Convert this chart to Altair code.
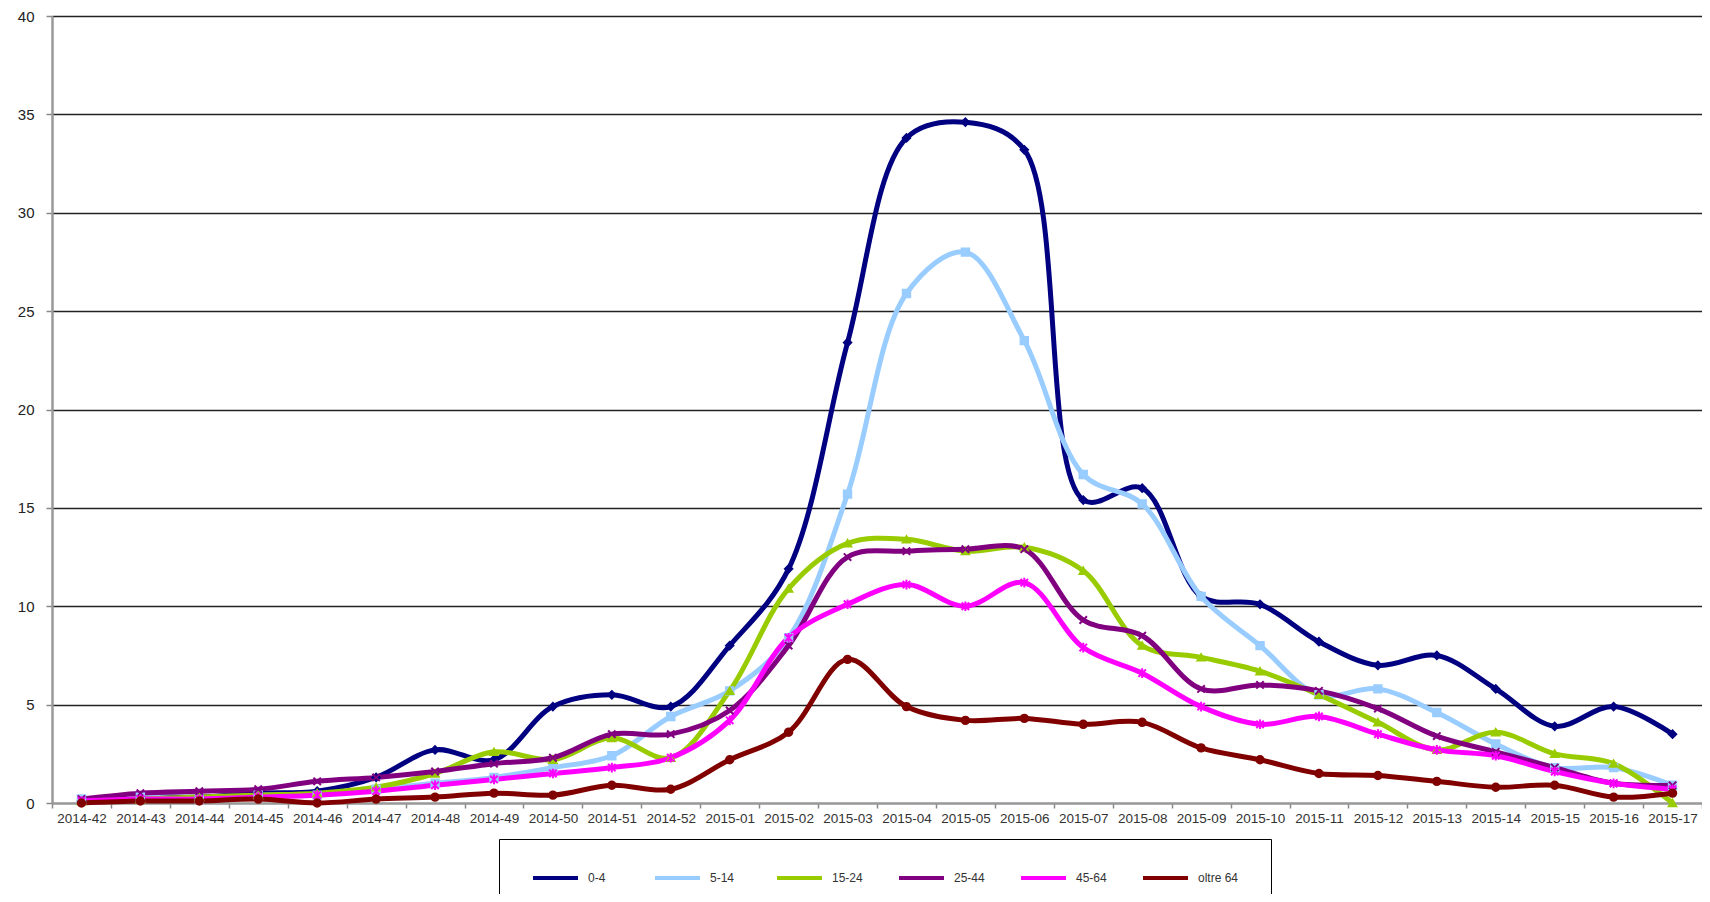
import altair as alt
import pandas as pd

weeks = ["2014-42", "2014-43", "2014-44", "2014-45", "2014-46", "2014-47", "2014-48",
         "2014-49", "2014-50", "2014-51", "2014-52", "2015-01", "2015-02", "2015-03",
         "2015-04", "2015-05", "2015-06", "2015-07", "2015-08", "2015-09", "2015-10",
         "2015-11", "2015-12", "2015-13", "2015-14", "2015-15", "2015-16", "2015-17"]

age_0_4 = [0.1, 0.3, 0.3, 0.5, 0.6, 1.3, 2.7, 2.2, 4.9, 5.5, 4.9, 8.0, 11.9, 23.4,
           33.8, 34.6, 33.2, 15.4, 16.0, 10.5, 10.1, 8.2, 7.0, 7.5, 5.8, 3.9, 4.9, 3.5]
age_5_14 = [0.2, 0.3, 0.2, 0.4, 0.4, 0.7, 1.0, 1.3, 1.8, 2.4, 4.4, 5.7, 8.4, 15.7,
            25.9, 28.0, 23.5, 16.7, 15.2, 10.5, 8.0, 5.5, 5.8, 4.6, 3.0, 1.8, 1.8, 0.9]
age_15_24 = [0.1, 0.2, 0.3, 0.4, 0.5, 0.8, 1.5, 2.6, 2.2, 3.3, 2.3, 5.7, 10.9, 13.2,
             13.4, 12.8, 13.0, 11.8, 8.0, 7.4, 6.7, 5.5, 4.1, 2.7, 3.6, 2.5, 2.0, 0.0]
age_25_44 = [0.2, 0.5, 0.6, 0.7, 1.1, 1.3, 1.6, 2.0, 2.3, 3.5, 3.5, 4.7, 8.0, 12.5,
             12.8, 12.9, 12.9, 9.3, 8.5, 5.8, 6.0, 5.7, 4.8, 3.4, 2.6, 1.8, 1.0, 0.9]
age_45_64 = [0.1, 0.2, 0.2, 0.3, 0.4, 0.6, 0.9, 1.2, 1.5, 1.8, 2.3, 4.2, 8.4, 10.1,
             11.1, 10.0, 11.2, 7.9, 6.6, 4.9, 4.0, 4.4, 3.5, 2.7, 2.4, 1.6, 1.0, 0.7]
age_65 = [0.0, 0.1, 0.1, 0.2, 0.0, 0.2, 0.3, 0.5, 0.4, 0.9, 0.7, 2.2, 3.6, 7.3,
          4.9, 4.2, 4.3, 4.0, 4.1, 2.8, 2.2, 1.5, 1.4, 1.1, 0.8, 0.9, 0.3, 0.5]

series_names = ["0-4", "5-14", "15-24", "25-44", "45-64", "oltre 64"]
series_values = [age_0_4, age_5_14, age_15_24, age_25_44, age_45_64, age_65]
series_colors = ["#000080", "#99CCFF", "#99CC00", "#800080", "#FF00FF", "#800000"]
series_shapes = ["diamond", "square", "triangle-up",
                 "M-1,-1L1,1M-1,1L1,-1",
                 "M-1,-1L1,1M-1,1L1,-1M0,-1.3L0,1.3",
                 "circle"]

rows = []
for k, (name, vals) in enumerate(zip(series_names, series_values)):
    for w, v in zip(weeks, vals):
        rows.append({"week": w, "value": v, "age": name, "order": k})
df = pd.DataFrame(rows)

FONT = "Liberation Sans"

x_enc = alt.X("week:N", sort=weeks,
              scale=alt.Scale(type="band", paddingInner=0, paddingOuter=0),
              axis=alt.Axis(title=None, labelAngle=0, tickBand="extent", labelFont=FONT,
                            labelFontSize=13.5, labelColor="#333", labelPadding=3,
                            tickSize=5, tickColor="#888", tickWidth=1.5,
                            domainColor="#999", domainWidth=2, grid=False,
                            labelOverlap=False))
y_enc = alt.Y("value:Q",
              scale=alt.Scale(domain=[0, 40], nice=False, zero=True),
              axis=alt.Axis(title=None, values=list(range(0, 41, 5)), labelFont=FONT,
                            labelFontSize=15, labelColor="#222", labelPadding=12,
                            tickSize=6, tickColor="#888", tickWidth=1.5,
                            domainColor="#999", domainWidth=2.5,
                            grid=True, gridColor="#222", gridWidth=1.3))

base = alt.Chart(df)

lines = base.mark_line(strokeWidth=5, interpolate="catmull-rom").encode(
    x=x_enc,
    y=y_enc,
    color=alt.Color("age:N", scale=alt.Scale(domain=series_names, range=series_colors),
                    sort=series_names,
                    legend=alt.Legend(title=None, orient="none", legendX=447, legendY=823,
                                      direction="horizontal", columns=6,
                                      symbolType="M-1,0H8", symbolSize=100,
                                      symbolStrokeWidth=4, labelFont=FONT,
                                      labelFontSize=12, labelColor="#333",
                                      labelOffset=43, columnPadding=18,
                                      gridAlign="all", padding=32,
                                      strokeColor="#000", fillColor="#fff")),
    order=alt.Order("order:Q"),
)

point_layers = []
for name, col, shp in zip(series_names, series_colors, series_shapes):
    point_layers.append(
        base.transform_filter(alt.datum.age == name)
        .mark_point(filled=True, size=55, strokeWidth=2, opacity=1,
                    shape=shp, fill=col, stroke=col)
        .encode(x=x_enc, y=y_enc)
    )

chart = alt.layer(lines, *point_layers).properties(
    width=1650, height=787,
    autosize=alt.AutoSizeParams(type="none"),
    padding={"left": 44, "top": 8, "right": 0, "bottom": 91},
).configure_view(stroke=None).configure(background="#ffffff")

chart.save("out.html", embed_options={"renderer": "svg", "actions": False})
